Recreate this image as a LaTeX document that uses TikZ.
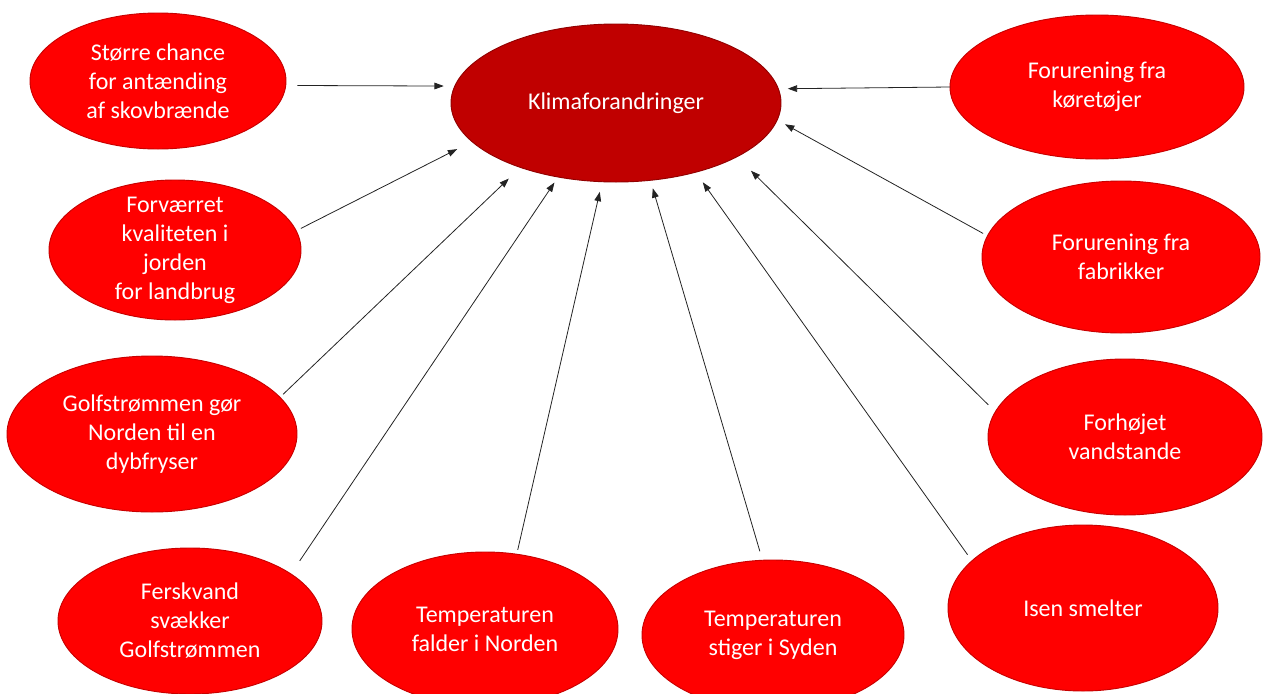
\documentclass[tikz,border=0pt]{standalone}
\usepackage{fontspec}
\setmainfont{Carlito}
\usetikzlibrary{arrows.meta,shapes.geometric}
\definecolor{bubblefill}{RGB}{255,0,0}
\definecolor{bubbleedge}{RGB}{200,0,0}
\definecolor{corefill}{RGB}{192,0,0}
\definecolor{coreedge}{RGB}{145,0,0}
\definecolor{wire}{RGB}{35,35,35}
\begin{document}
\begin{tikzpicture}[x=0.75pt,y=-0.75pt,
  bubble/.style={ellipse, fill=bubblefill, draw=bubbleedge, line width=0.7pt,
                 inner sep=0pt, outer sep=0pt},
  core/.style={bubble, fill=corefill, draw=coreedge},
  bubbletext/.style={text=white, align=center, inner sep=0pt,
                     font=\fontsize{18}{21.75}\selectfont},
  link/.style={draw=wire, line width=0.6pt, -{Triangle[length=7pt,width=5pt]}}]
\useasboundingbox (0,0) rectangle (1263,693);
\clip (0,0) rectangle (1263,693);

% central ellipse
\node[core, minimum width=247.5pt, minimum height=118.5pt] (klima) at (616,103) {};
\node[bubbletext] (klima-t) at (klima) {Klimaforandringer};

% causes on the left
\node[bubble, minimum width=192pt, minimum height=102pt] (storre) at (158,81) {};
\node[bubbletext] (storre-t) at (storre) {Større chance\\for antænding\\af skovbrænde};
\node[bubble, minimum width=189pt, minimum height=105pt] (forv) at (175,250) {};
\node[bubbletext] (forv-t) at (forv) {Forværret\\kvaliteten i\\jorden\\for landbrug};
\node[bubble, minimum width=217.5pt, minimum height=117pt] (golf) at (152,434) {};
\node[bubbletext] (golf-t) at (golf) {Golfstrømmen gør\\Norden til en\\dybfryser};
\node[bubble, minimum width=198pt, minimum height=109.5pt] (fersk) at (190,621) {};
\node[bubbletext] (fersk-t) at (fersk) {Ferskvand\\svækker\\Golfstrømmen};

% causes along the bottom
\node[bubble, minimum width=199.5pt, minimum height=115.5pt] (falder) at (485,629) {};
\node[bubbletext] (falder-t) at (falder) {Temperaturen\\falder i Norden};
\node[bubble, minimum width=196.5pt, minimum height=112.5pt] (stiger) at (773,635) {};
\node[bubbletext] (stiger-t) at (stiger) {Temperaturen\\stiger i Syden};

% causes on the right
\node[bubble, minimum width=202.5pt, minimum height=124.5pt] (isen) at (1083,608) {};
\node[bubbletext] (isen-t) at (isen) {Isen smelter};
\node[bubble, minimum width=205.5pt, minimum height=117pt] (vand) at (1125,437) {};
\node[bubbletext] (vand-t) at (vand) {Forhøjet\\vandstande};
\node[bubble, minimum width=208.5pt, minimum height=114pt] (fabrik) at (1121,257) {};
\node[bubbletext] (fabrik-t) at (fabrik) {Forurening fra\\fabrikker};
\node[bubble, minimum width=220.5pt, minimum height=108pt] (koret) at (1097,87) {};
\node[bubbletext] (koret-t) at (koret) {Forurening fra\\køretøjer};

% arrows into the central ellipse
\draw[link, shorten <=8.7pt, shorten >=8.3pt]  (storre.-2.9)  -- (klima.174.7);
\draw[link, shorten <=4pt,   shorten >=12.5pt] (forv.9.5)     -- (klima.-165.4);
\draw[link, shorten <=3.2pt, shorten >=12.1pt] (golf.16.6)    -- (klima.-146.4);
\draw[link, shorten <=11.9pt,shorten >=5pt]    (fersk.25.2)   -- (klima.-128.6);
\draw[link, shorten <=3.4pt, shorten >=7.8pt]  (falder.67.3)  -- (klima.-100.2);
\draw[link, shorten <=7pt,   shorten >=6.3pt]  (stiger.98.8)  -- (klima.-66.5);
\draw[link, shorten <=5.6pt, shorten >=9.3pt]  (isen.157)     -- (klima.-41.9);
\draw[link, shorten <=7.4pt, shorten >=14.9pt] (vand.169.5)   -- (klima.-24.7);
\draw[link, shorten <=3.8pt, shorten >=6.7pt]  (fabrik.171.4) -- (klima.-6.75);
\draw[link, shorten >=7.1pt]                   (koret.west)   -- (klima.5.7);
\end{tikzpicture}
\end{document}
